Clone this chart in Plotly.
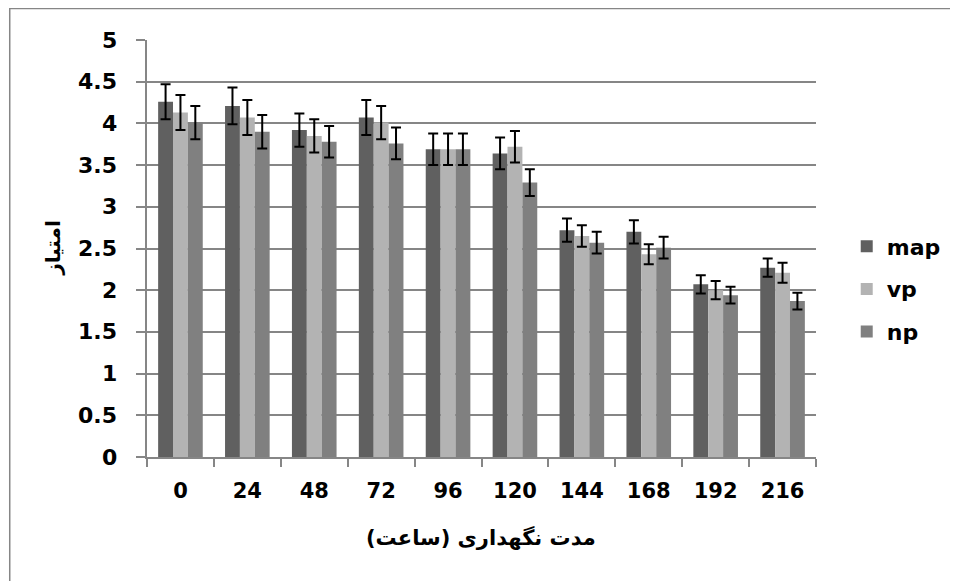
import plotly.graph_objects as go

categories = ["0", "24", "48", "72", "96", "120", "144", "168", "192", "216"]
map_vals = [4.26, 4.21, 3.92, 4.07, 3.69, 3.64, 2.72, 2.70, 2.07, 2.27]
map_err = [0.21, 0.22, 0.20, 0.21, 0.19, 0.19, 0.14, 0.14, 0.11, 0.11]
vp_vals = [4.13, 4.07, 3.85, 4.01, 3.69, 3.72, 2.65, 2.43, 2.00, 2.21]
vp_err = [0.21, 0.21, 0.20, 0.20, 0.19, 0.19, 0.13, 0.12, 0.11, 0.12]
np_vals = [4.01, 3.90, 3.78, 3.76, 3.69, 3.29, 2.57, 2.51, 1.94, 1.87]
np_err = [0.20, 0.20, 0.19, 0.19, 0.19, 0.16, 0.13, 0.13, 0.10, 0.10]
y_ticks = [0, 0.5, 1, 1.5, 2, 2.5, 3, 3.5, 4, 4.5, 5]

series = [
    ("map", map_vals, map_err, "#606060"),
    ("vp", vp_vals, vp_err, "#b3b3b3"),
    ("np", np_vals, np_err, "#808080"),
]

FONT = "DejaVu Sans, sans-serif"

fig = go.Figure()
for name, vals, err, color in series:
    fig.add_trace(go.Bar(
        x=categories, y=vals, name=name,
        marker=dict(color=color, line=dict(width=0)),
        error_y=dict(type="data", array=err, visible=True,
                     color="black", thickness=2, width=5),
        legendgroup=name,
    ))

# page offset (body margin) in screen pixels
OFF = 8
W, H = 950, 573
L, T = 147 - OFF, 40 - OFF
pw, ph = 822 - 147, 457 - 40
R, B = W - L - pw, H - T - ph

def px_x(sx):
    return (sx - OFF - L) / pw

def px_y(sy):
    return (T + ph - (sy - OFF)) / ph

annotations = [
    dict(text=f"{v:g}", xref="paper", yref="y", x=px_x(119), y=v,
         xanchor="right", yanchor="middle", showarrow=False,
         font=dict(size=22, family=FONT, color="black", weight="bold"))
    for v in y_ticks
]
annotations += [
    dict(text="مدت نگهداری (ساعت)", xref="paper", yref="paper",
         x=px_x(484), y=px_y(537), xanchor="center", yanchor="middle",
         showarrow=False,
         font=dict(size=21, family=FONT, color="black", weight="bold")),
    dict(text="امتیاز", xref="paper", yref="paper",
         x=px_x(52), y=px_y(248), xanchor="center", yanchor="middle",
         showarrow=False, textangle=-90,
         font=dict(size=20, family=FONT, color="black", weight="bold")),
]

fig.update_layout(
    width=W, height=H,
    margin=dict(l=L, r=R, t=T, b=B, pad=0),
    paper_bgcolor="white", plot_bgcolor="white",
    barmode="group", bargap=0.333, bargroupgap=0,
    font=dict(family=FONT, color="black"),
    showlegend=True,
    legend=dict(
        x=px_x(853), y=px_y(289), xanchor="left", yanchor="middle",
        font=dict(size=22, family=FONT, color="black", weight="bold"),
        traceorder="grouped", tracegroupgap=11,
        bgcolor="rgba(0,0,0,0)",
    ),
    xaxis=dict(
        type="category",
        showline=True, linecolor="#868686", linewidth=2,
        ticks="outside", ticklen=8, tickcolor="#868686", tickwidth=1.5,
        tickson="boundaries",
        showgrid=False,
        tickfont=dict(size=21, family=FONT, color="black", weight="bold"),
        ticklabelstandoff=14,
    ),
    yaxis=dict(
        range=[0, 5], tickvals=y_ticks, showticklabels=False,
        showline=True, linecolor="#868686", linewidth=2,
        ticks="outside", ticklen=9, tickcolor="#868686", tickwidth=1.5,
        showgrid=True, gridcolor="#868686", gridwidth=2,
        zeroline=False,
    ),
    annotations=annotations,
    shapes=[dict(type="rect", xref="paper", yref="paper",
                 x0=px_x(8.5), x1=px_x(990), y0=px_y(620), y1=px_y(8.5),
                 line=dict(color="#868686", width=1.5), fillcolor="rgba(0,0,0,0)",
                 layer="below")],
)

fig.write_html("out.html")
